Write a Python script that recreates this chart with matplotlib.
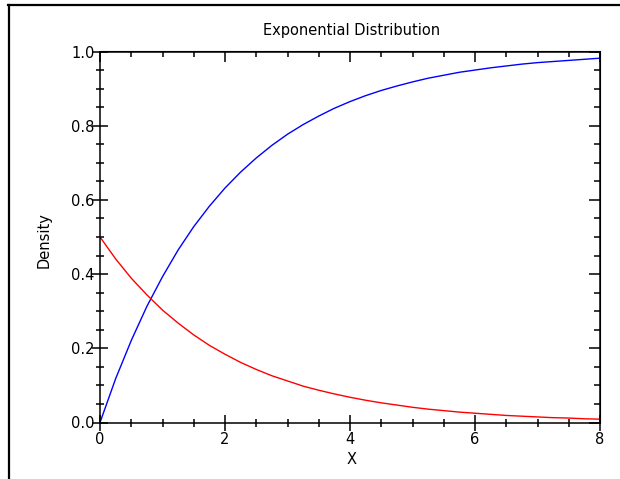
import matplotlib
matplotlib.use("Agg")
import matplotlib.pyplot as plt
from matplotlib.lines import Line2D
from matplotlib.ticker import MultipleLocator

# Data
x_vals = [0, 0.25, 0.5, 0.75, 1, 1.25, 1.5, 1.75, 2, 2.25, 2.5, 2.75, 3, 3.25, 3.5, 3.75,
          4, 4.25, 4.5, 4.75, 5, 5.25, 5.5, 5.75, 6, 6.25, 6.5, 6.75, 7, 7.25, 7.5, 7.75, 8]
cdf_vals = [0, 0.118, 0.221, 0.313, 0.393, 0.465, 0.528, 0.583, 0.632, 0.675, 0.713, 0.747,
            0.777, 0.803, 0.826, 0.847, 0.865, 0.881, 0.895, 0.907, 0.918, 0.928, 0.936,
            0.944, 0.950, 0.956, 0.961, 0.966, 0.970, 0.973, 0.976, 0.979, 0.982]
pdf_vals = [0.5, 0.441, 0.389, 0.344, 0.303, 0.268, 0.236, 0.208, 0.184, 0.162, 0.143, 0.126,
            0.112, 0.098, 0.087, 0.077, 0.068, 0.060, 0.053, 0.047, 0.041, 0.036, 0.032,
            0.028, 0.025, 0.022, 0.019, 0.017, 0.015, 0.013, 0.012, 0.010, 0.009]
x_ticks = [0, 2, 4, 6, 8]
y_ticks = [0.0, 0.2, 0.4, 0.6, 0.8, 1.0]
y_ticklabels = ["0.0", "0.2", "0.4", "0.6", "0.8", "1.0"]

title = "Exponential Distribution"
xlabel = "X"
ylabel = "Density"

W, H = 620, 479
fig = plt.figure(figsize=(W / 100, H / 100), dpi=100)
fig.patch.set_facecolor("white")

left, right = 100 / W, 600 / W
bottom, top = 1 - 422.5 / H, 1 - 51.5 / H
ax = fig.add_axes([left, bottom, right - left, top - bottom])

ax.plot(x_vals, cdf_vals, color="#0000ff", lw=1.0)
ax.plot(x_vals, pdf_vals, color="#ff0000", lw=1.0)

ax.set_xlim(0, 8)
ax.set_ylim(0, 1.0)
ax.set_xticks(x_ticks)
ax.set_xticklabels([str(t) for t in x_ticks])
ax.set_yticks(y_ticks)
ax.set_yticklabels(y_ticklabels)
ax.xaxis.set_minor_locator(MultipleLocator(0.5))
ax.yaxis.set_minor_locator(MultipleLocator(0.05))

fs = 10.5
for s in ax.spines.values():
    s.set_linewidth(1.1)
    s.set_color("black")

ax.tick_params(which="major", direction="inout", length=12, width=1.1, labelsize=fs, color="black")
ax.tick_params(which="minor", direction="inout", length=6, width=1.1, color="black")
ax.tick_params(axis="x", which="major", pad=1)
ax.tick_params(axis="y", which="major", pad=-2)

# top / right ticks pointing inward only
secx = ax.secondary_xaxis("top")
secx.set_xticks(x_ticks)
secx.xaxis.set_minor_locator(MultipleLocator(0.5))
secx.tick_params(which="major", direction="in", length=8, width=1.1, labeltop=False)
secx.tick_params(which="minor", direction="in", length=4, width=1.1)
secy = ax.secondary_yaxis("right")
secy.set_yticks(y_ticks)
secy.yaxis.set_minor_locator(MultipleLocator(0.05))
secy.tick_params(which="major", direction="in", length=8, width=1.1, labelright=False)
secy.tick_params(which="minor", direction="in", length=4, width=1.1)

fig.text(352 / W, 1 - 30 / H, title, ha="center", va="center", fontsize=fs)
fig.text(352 / W, 1 - 459 / H, xlabel, ha="center", va="center", fontsize=fs)
fig.text(44 / W, 1 - 240 / H, ylabel, ha="center", va="center", rotation=90, fontsize=fs)

# outer frame lines (top and left)
fig.add_artist(Line2D([8 / W, 1.0], [1 - 5 / H, 1 - 5 / H], color="black", lw=1.6,
                      transform=fig.transFigure))
fig.add_artist(Line2D([9 / W, 9 / W], [0, 1 - 5 / H], color="black", lw=1.6,
                      transform=fig.transFigure))

fig.savefig("out.png", dpi=100, facecolor="white")
